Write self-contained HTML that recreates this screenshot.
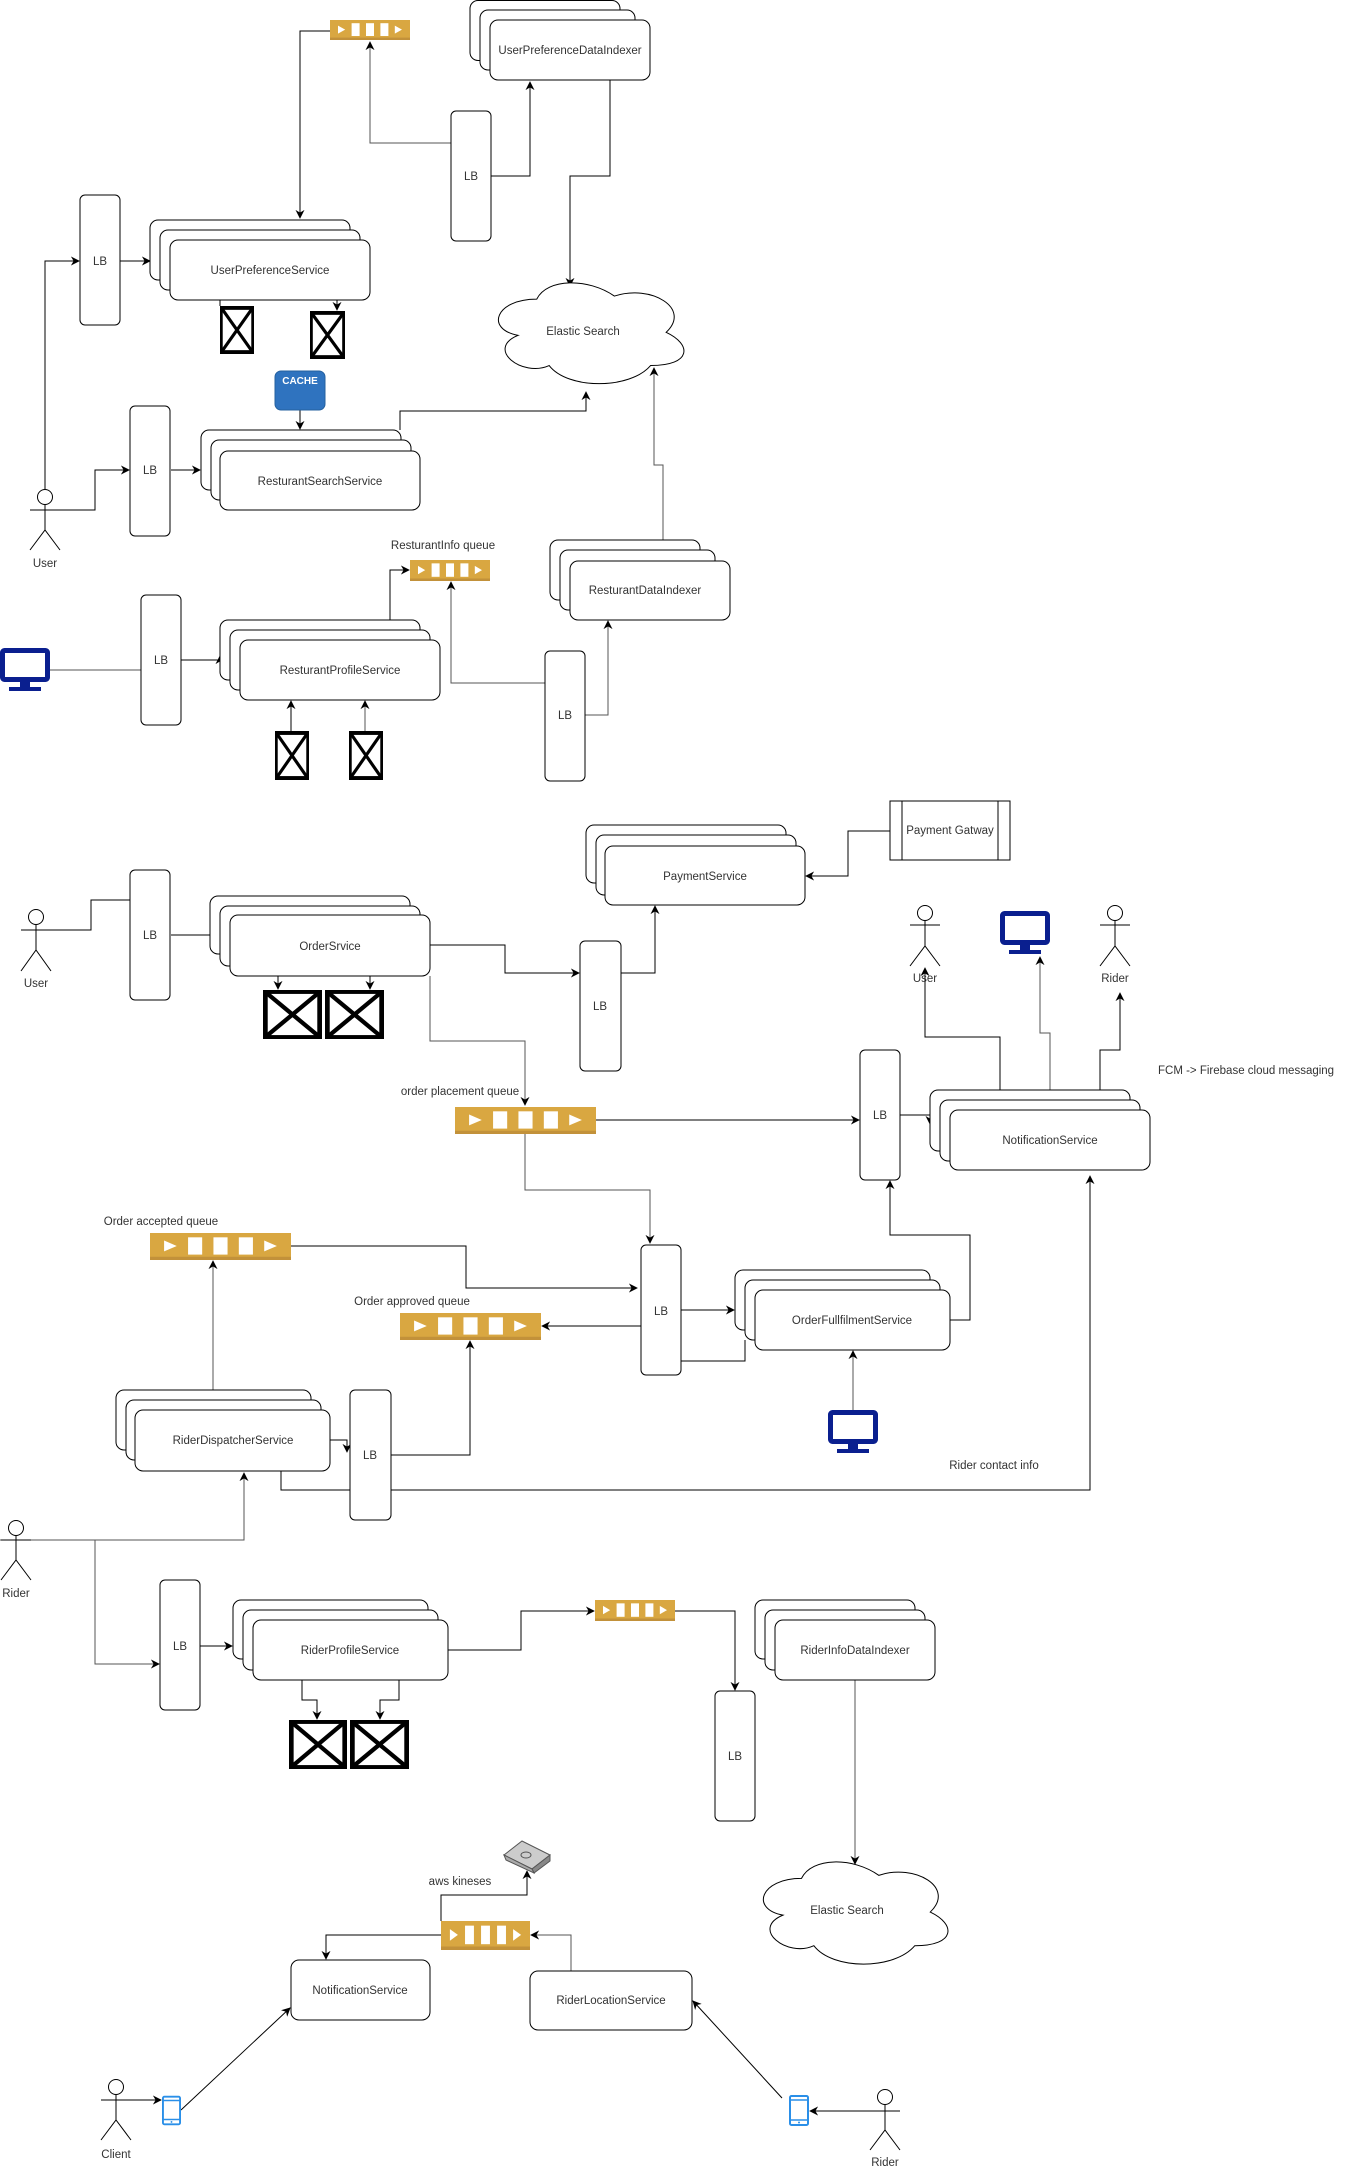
<!DOCTYPE html>
<html><head><meta charset="utf-8"><style>
html,body{margin:0;padding:0;background:#fff;}
svg{display:block;}
text{font-family:"Liberation Sans",Arial,sans-serif;font-size:11.5px;fill:#333;}
</style></head><body>
<svg width="1351" height="2172" viewBox="0 0 1351 2172" xmlns="http://www.w3.org/2000/svg">
<defs>
<marker id="a" viewBox="0 0 10 10" refX="9" refY="5" markerWidth="9" markerHeight="9" markerUnits="userSpaceOnUse" orient="auto"><path d="M0,0 L10,5 L0,10 L3,5 z" fill="#000"/></marker>
<symbol id="q" viewBox="0 0 100 25" preserveAspectRatio="none"><rect x="0" y="0" width="100" height="25" fill="#D9A741"/><rect x="0" y="22" width="100" height="3" fill="#C2913A"/><path d="M10,7 L19,12 L10,17z" fill="#fff"/><rect x="27" y="4" width="10" height="16" fill="#fff"/><rect x="45" y="4" width="10" height="16" fill="#fff"/><rect x="63" y="4" width="10" height="16" fill="#fff"/><path d="M81,7 L90,12 L81,17z" fill="#fff"/></symbol>
<symbol id="x" viewBox="0 0 50 50" preserveAspectRatio="none"><rect x="2" y="2" width="46" height="46" fill="#fff" stroke="#000" stroke-width="4"/><path d="M2,2 L48,48 M48,2 L2,48" stroke="#000" stroke-width="4"/></symbol>
<symbol id="m" viewBox="0 0 50 44"><rect x="2.5" y="2.5" width="45" height="29" rx="2" fill="#fff" stroke="#0a1f8f" stroke-width="5"/><rect x="20" y="33" width="10" height="6" fill="#0a1f8f"/><rect x="9" y="39" width="32" height="4" fill="#0a1f8f"/></symbol>
<symbol id="p" viewBox="0 0 20 31"><rect x="1" y="1" width="18" height="29" rx="1.5" fill="#fff" stroke="#2a8fe8" stroke-width="2"/><path d="M1,5 H19 M1,25 H19" stroke="#2a8fe8" stroke-width="1.5"/><circle cx="10" cy="27.5" r="1" fill="#2a8fe8"/></symbol>
<g id="cloudshape"><path d="M25,60 C5,60 0,80 16,84 C0,93 18,112 31,104 C40,120 70,120 80,104 C100,104 100,90 87.5,82 C100,66 80,50 62.5,58 C50,46 30,46 25,60 Z" fill="#fff" stroke="#000" stroke-width="1" vector-effect="non-scaling-stroke"/></g>
</defs>

<g fill="none" stroke="#000" stroke-width="1">
<!-- ============ TOP SECTION ============ -->
<!-- connectors -->
<path d="M451,143 H370 V42" marker-end="url(#a)" stroke="#555"/>
<path d="M491,176 H530 V82" marker-end="url(#a)"/>
<path d="M610,80 V176 H570 V286" marker-end="url(#a)"/>
<path d="M330,31 H300 V218" marker-end="url(#a)"/>
<path d="M120,261 H150" marker-end="url(#a)"/>
<path d="M220,300 V306" />
<path d="M337,300 V310" marker-end="url(#a)"/>
<path d="M300,410 V429" marker-end="url(#a)"/>
<path d="M171,470 H200" marker-end="url(#a)"/>
<path d="M400,430 V411 H586 V392" marker-end="url(#a)"/>
<path d="M45,489 V261 H79" marker-end="url(#a)"/>
<path d="M30,510 H95 V470 H129" marker-end="url(#a)"/>
<path d="M663,540 V465 H654 V368" marker-end="url(#a)" stroke="#555"/>
<path d="M50,670 H141" stroke="#555"/>
<path d="M181,660 H220 V656" marker-end="url(#a)"/>
<path d="M390,640 V570 H409" marker-end="url(#a)"/>
<path d="M545,683 H451 V582" marker-end="url(#a)" stroke="#555"/>
<path d="M585,715 H608 V621" marker-end="url(#a)" stroke="#555"/>
<path d="M291,731 V701" marker-end="url(#a)"/>
<path d="M365,731 V701" marker-end="url(#a)" stroke="#555"/>

<!-- ============ SECTION 2 connectors ============ -->
<path d="M50,930 H91 V900 H130"/>
<path d="M171,935 H219" marker-end="url(#a)"/>
<path d="M278,976 V989" marker-end="url(#a)"/>
<path d="M370,976 V989" marker-end="url(#a)"/>
<path d="M430,945 H505 V973 H579" marker-end="url(#a)"/>
<path d="M621,973 H655 V906" marker-end="url(#a)"/>
<path d="M890,831 H848 V876 H806" marker-end="url(#a)"/>
<path d="M430,976 V1041 H525 V1105" marker-end="url(#a)" stroke="#555"/>
<path d="M596,1120 H859" marker-end="url(#a)"/>
<path d="M525,1134 V1190 H650 V1243" marker-end="url(#a)" stroke="#555"/>
<path d="M291,1246 H466 V1288 H637" marker-end="url(#a)"/>
<path d="M641,1326 H542" marker-end="url(#a)"/>
<path d="M213,1390 V1261" marker-end="url(#a)" stroke="#555"/>
<path d="M391,1455 H470 V1341" marker-end="url(#a)"/>
<path d="M330,1440 H347 V1452" marker-end="url(#a)"/>
<path d="M281,1471 V1490 H1090 V1176" marker-end="url(#a)"/>
<path d="M1000,1110 V1037 H925 V968" marker-end="url(#a)"/>
<path d="M1050,1110 V1033 H1040 V957" marker-end="url(#a)" stroke="#555"/>
<path d="M1100,1110 V1050 H1120 V993" marker-end="url(#a)"/>
<path d="M900,1115 H930 V1124" marker-end="url(#a)"/>
<path d="M681,1310 H734" marker-end="url(#a)"/>
<path d="M681,1361 H745 V1340"/>
<path d="M950,1320 H970 V1235 H890 V1181" marker-end="url(#a)"/>
<path d="M853,1410 V1351" marker-end="url(#a)" stroke="#555"/>

<!-- ============ SECTION 3 connectors ============ -->
<path d="M0,1540 H244 V1473" marker-end="url(#a)" stroke="#555"/>
<path d="M95,1540 V1664 H159" marker-end="url(#a)" stroke="#555"/>
<path d="M200,1646 H232" marker-end="url(#a)"/>
<path d="M302,1680 V1700 H317 V1719" marker-end="url(#a)"/>
<path d="M399,1680 V1700 H380 V1719" marker-end="url(#a)"/>
<path d="M448,1650 H521 V1611 H594" marker-end="url(#a)"/>
<path d="M675,1611 H735 V1690" marker-end="url(#a)"/>
<path d="M855,1680 V1864" marker-end="url(#a)" stroke="#555"/>
<path d="M441,1921 V1895 H527 V1871" marker-end="url(#a)"/>
<path d="M441,1935 H326 V1959" marker-end="url(#a)"/>
<path d="M571,1971 V1935 H531" marker-end="url(#a)" stroke="#555"/>
<path d="M130,2100 H161" marker-end="url(#a)"/>
<path d="M181,2110 L290,2008" marker-end="url(#a)"/>
<path d="M900,2111 H810" marker-end="url(#a)"/>
<path d="M782,2098 L693,2001" marker-end="url(#a)"/>
</g>

<!-- ============ SHAPES ============ -->
<g fill="#fff" stroke="#000" stroke-width="1">
<!-- top -->
<rect x="470" y="0.5" width="150" height="60" rx="8"/><rect x="480" y="10" width="155" height="60" rx="8"/><rect x="490" y="20" width="160" height="60" rx="8"/>
<rect x="451" y="111" width="40" height="130" rx="5"/>
<rect x="80" y="195" width="40" height="130" rx="5"/>
<rect x="150" y="220" width="200" height="60" rx="8"/><rect x="160" y="230" width="200" height="60" rx="8"/><rect x="170" y="240" width="200" height="60" rx="8"/>
<rect x="130" y="406" width="40" height="130" rx="5"/>
<rect x="201" y="430" width="200" height="60" rx="8"/><rect x="211" y="440" width="200" height="60" rx="8"/><rect x="220" y="451" width="200" height="59" rx="8"/>
<rect x="550" y="540" width="150" height="60" rx="8"/><rect x="560" y="550" width="155" height="60" rx="8"/><rect x="570" y="561" width="160" height="59" rx="8"/>
<rect x="141" y="595" width="40" height="130" rx="5"/>
<rect x="220" y="620" width="200" height="60" rx="8"/><rect x="230" y="630" width="200" height="60" rx="8"/><rect x="240" y="640" width="200" height="60" rx="8"/>
<rect x="545" y="651" width="40" height="130" rx="5"/>
<!-- section 2 -->
<rect x="130" y="870" width="40" height="130" rx="5"/>
<rect x="210" y="896" width="200" height="58" rx="8"/><rect x="220" y="906" width="200" height="60" rx="8"/><rect x="230" y="915" width="200" height="61" rx="8"/>
<rect x="580" y="941" width="41" height="130" rx="5"/>
<rect x="586" y="825" width="200" height="58" rx="8"/><rect x="596" y="835" width="200" height="60" rx="8"/><rect x="605" y="846" width="200" height="59" rx="8"/>
<rect x="890" y="801" width="120" height="59"/>
<path d="M902,801 V860 M998,801 V860" fill="none"/>
<rect x="641" y="1245" width="40" height="130" rx="5"/>
<rect x="116" y="1390" width="195" height="60" rx="8"/><rect x="126" y="1400" width="195" height="60" rx="8"/><rect x="135" y="1410" width="195" height="61" rx="8"/>
<rect x="350" y="1390" width="41" height="130" rx="5"/>
<rect x="860" y="1050" width="40" height="130" rx="5"/>
<rect x="930" y="1090" width="200" height="61" rx="8"/><rect x="940" y="1100" width="200" height="61" rx="8"/><rect x="950" y="1110" width="200" height="60" rx="8"/>
<rect x="735" y="1270" width="195" height="60" rx="8"/><rect x="745" y="1280" width="195" height="60" rx="8"/><rect x="755" y="1290" width="195" height="60" rx="8"/>
<!-- section 3 -->
<rect x="160" y="1580" width="40" height="130" rx="5"/>
<rect x="233" y="1600" width="195" height="59" rx="8"/><rect x="243" y="1610" width="195" height="60" rx="8"/><rect x="253" y="1620" width="195" height="60" rx="8"/>
<rect x="715" y="1691" width="40" height="130" rx="5"/>
<rect x="755" y="1600" width="160" height="59" rx="8"/><rect x="765" y="1610" width="160" height="60" rx="8"/><rect x="775" y="1620" width="160" height="60" rx="8"/>
<rect x="291" y="1960" width="139" height="60" rx="8"/>
<rect x="530" y="1971" width="162" height="59" rx="8"/>
</g>

<!-- clouds -->
<g transform="translate(485,208.5) scale(2.07,1.51)"><use href="#cloudshape"/></g>
<g transform="translate(750,1786.6) scale(2.06,1.53)"><use href="#cloudshape"/></g>

<!-- queues -->
<use href="#q" x="330" y="20" width="80" height="20"/>
<use href="#q" x="410" y="560" width="80" height="21"/>
<use href="#q" x="455" y="1107" width="141" height="27"/>
<use href="#q" x="150" y="1233" width="141" height="27"/>
<use href="#q" x="400" y="1313" width="141" height="27"/>
<use href="#q" x="595" y="1600" width="80" height="21"/>
<use href="#q" x="441" y="1921" width="89" height="29"/>

<!-- cross boxes -->
<use href="#x" x="220" y="306" width="34" height="48"/>
<use href="#x" x="310" y="311" width="35" height="48"/>
<use href="#x" x="275" y="731" width="34" height="49"/>
<use href="#x" x="349" y="731" width="34" height="49"/>
<use href="#x" x="263" y="990" width="59" height="49"/>
<use href="#x" x="325" y="990" width="59" height="49"/>
<use href="#x" x="289" y="1720" width="58" height="49"/>
<use href="#x" x="350" y="1720" width="59" height="49"/>

<!-- monitors -->
<use href="#m" x="0" y="648" width="50" height="44"/>
<use href="#m" x="1000" y="911" width="50" height="44"/>
<use href="#m" x="828" y="1410" width="50" height="44"/>

<!-- phones -->
<use href="#p" x="162" y="2095" width="19" height="31"/>
<use href="#p" x="789" y="2095" width="20" height="31"/>

<!-- cache -->
<rect x="275" y="371" width="50" height="39" rx="6" fill="#2f73bf" stroke="#24609f"/>
<text x="300" y="384" text-anchor="middle" style="fill:#fff;font-weight:bold;font-size:10px">CACHE</text>

<!-- kinesis icon -->
<g stroke="#555" stroke-width="1">
<path d="M504,1855 L522,1841 L550,1855 L532,1869 Z" fill="#ccc"/>
<path d="M532,1869 L550,1855 L550,1861 L534,1873 Z" fill="#888"/>
<path d="M504,1855 L532,1869 L534,1873 L506,1860 Z" fill="#aaa"/>
<ellipse cx="526" cy="1855" rx="5" ry="3" fill="none"/>
</g>

<!-- actors -->
<g fill="#fff" stroke="#000" stroke-width="1">
<circle cx="45" cy="497" r="7.5"/><path d="M45,504.5 V530 M30,510 H60 M30,550 L45,530 L60,550" fill="none"/>
<circle cx="36" cy="917" r="7.5"/><path d="M36,924.5 V950 M21,930 H51 M21,971 L36,950 L51,971" fill="none"/>
<circle cx="925" cy="913" r="7.5"/><path d="M925,920.5 V946 M910,925 H940 M910,966 L925,946 L940,966" fill="none"/>
<circle cx="1115" cy="913" r="7.5"/><path d="M1115,920.5 V946 M1100,925 H1130 M1100,966 L1115,946 L1130,966" fill="none"/>
<circle cx="16" cy="1528" r="7.5"/><path d="M16,1535.5 V1560 M1,1540 H31 M1,1580 L16,1560 L31,1580" fill="none"/>
<circle cx="116" cy="2087" r="7.5"/><path d="M116,2094.5 V2120 M101,2100 H131 M101,2140 L116,2120 L131,2140" fill="none"/>
<circle cx="885" cy="2097" r="7.5"/><path d="M885,2104.5 V2130 M870,2111 H900 M870,2150 L885,2130 L900,2150" fill="none"/>
</g>

<!-- labels -->
<g text-anchor="middle">
<text x="570" y="54">UserPreferenceDataIndexer</text>
<text x="471" y="180">LB</text>
<text x="100" y="265">LB</text>
<text x="270" y="274">UserPreferenceService</text>
<text x="583" y="335">Elastic Search</text>
<text x="150" y="474">LB</text>
<text x="320" y="485">ResturantSearchService</text>
<text x="45" y="567">User</text>
<text x="443" y="549">ResturantInfo queue</text>
<text x="645" y="594">ResturantDataIndexer</text>
<text x="161" y="664">LB</text>
<text x="340" y="674">ResturantProfileService</text>
<text x="565" y="719">LB</text>

<text x="36" y="987">User</text>
<text x="150" y="939">LB</text>
<text x="330" y="950">OrderSrvice</text>
<text x="600" y="1010">LB</text>
<text x="705" y="880">PaymentService</text>
<text x="950" y="834">Payment Gatway</text>
<text x="460" y="1095">order placement queue</text>
<text x="661" y="1315">LB</text>
<text x="161" y="1225">Order accepted queue</text>
<text x="412" y="1305">Order approved queue</text>
<text x="233" y="1444">RiderDispatcherService</text>
<text x="370" y="1459">LB</text>
<text x="925" y="982">User</text>
<text x="1115" y="982">Rider</text>
<text x="880" y="1119">LB</text>
<text x="1050" y="1144">NotificationService</text>
<text x="852" y="1324">OrderFullfilmentService</text>
<text x="994" y="1469">Rider contact info</text>

<text x="16" y="1597">Rider</text>
<text x="180" y="1650">LB</text>
<text x="350" y="1654">RiderProfileService</text>
<text x="735" y="1760">LB</text>
<text x="855" y="1654">RiderInfoDataIndexer</text>
<text x="847" y="1914">Elastic Search</text>
<text x="460" y="1885">aws kineses</text>
<text x="360" y="1994">NotificationService</text>
<text x="611" y="2004">RiderLocationService</text>
<text x="116" y="2158">Client</text>
<text x="885" y="2166">Rider</text>
</g>
<text x="1158" y="1074">FCM -&gt; Firebase cloud messaging</text>
</svg>
</body></html>
